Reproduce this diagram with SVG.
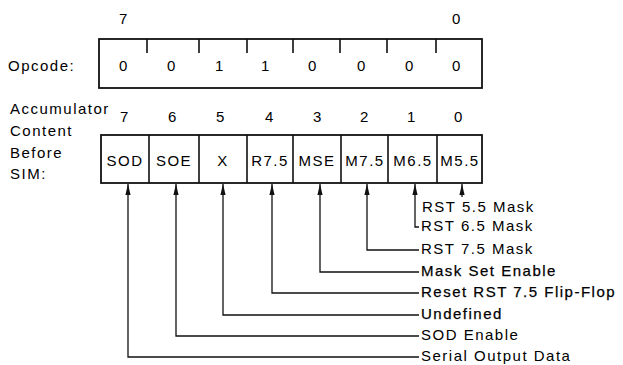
<svg xmlns="http://www.w3.org/2000/svg" width="623" height="365" viewBox="0 0 623 365">
<style>
text{font-family:"Liberation Sans",Arial,sans-serif;font-size:15px;letter-spacing:1.5px;fill:#000}
.c{text-anchor:middle}
.dk{stroke:#000;stroke-width:0.25}
.box{fill:#fff;stroke:#111;stroke-width:1.8}
.tick{stroke:#111;stroke-width:1.6}
.ln{fill:none;stroke:#111;stroke-width:1.3}
</style>
<defs>
<marker id="ah" markerWidth="6" markerHeight="11" refX="3" refY="0" orient="0" markerUnits="userSpaceOnUse" viewBox="0 0 6 11" overflow="visible">
<path d="M3 0 L5.6 11 L0.4 11 Z" fill="#111"/>
</marker>
</defs>
<rect width="623" height="365" fill="#fff"/>
<g id="opcode">
<text x="124" y="24" class="c">7</text>
<text x="457" y="24" class="c">0</text>
<text x="8" y="71">Opcode:</text>
<rect class="box" x="99" y="39" width="383" height="49"/>
<path class="tick" d="M147 39V53M199 39V53M247 39V53M293 39V53M340 39V53M387 39V53M436 39V53"/>
<text x="124" y="71" class="c">0</text>
<text x="172" y="71" class="c">0</text>
<text x="220" y="71" class="c">1</text>
<text x="266" y="71" class="c">1</text>
<text x="313" y="71" class="c">0</text>
<text x="362" y="71" class="c">0</text>
<text x="410" y="71" class="c">0</text>
<text x="457" y="71" class="c">0</text>
</g>
<g id="accumulator">
<text x="10" y="114">Accumulator</text>
<text x="10" y="136">Content</text>
<text x="10" y="158">Before</text>
<text x="10" y="179">SIM:</text>
<text x="125" y="122" class="c">7</text>
<text x="173" y="122" class="c">6</text>
<text x="221" y="122" class="c">5</text>
<text x="270" y="122" class="c">4</text>
<text x="318" y="122" class="c">3</text>
<text x="365" y="122" class="c">2</text>
<text x="412" y="122" class="c">1</text>
<text x="459" y="122" class="c">0</text>
<rect class="box" x="101" y="135" width="381" height="48"/>
<path class="tick" d="M149 135V183M199 135V183M247 135V183M293 135V183M341 135V183M388 135V183M437 135V183"/>
<text x="125" y="166" class="c">SOD</text>
<text x="174" y="166" class="c">SOE</text>
<text x="223" y="166" class="c">X</text>
<text x="270" y="166" class="c">R7.5</text>
<text x="317" y="166" class="c">MSE</text>
<text x="365" y="166" class="c">M7.5</text>
<text x="413" y="166" class="c">M6.5</text>
<text x="460" y="166" class="c">M5.5</text>
</g>
<g id="connectors">
<path class="ln" marker-start="url(#ah)" d="M462 184V197"/>
<path class="ln" marker-start="url(#ah)" d="M415 184V227H419"/>
<path class="ln" marker-start="url(#ah)" d="M367 184V250H419"/>
<path class="ln" marker-start="url(#ah)" d="M320 184V272H419"/>
<path class="ln" marker-start="url(#ah)" d="M272 184V293H419"/>
<path class="ln" marker-start="url(#ah)" d="M223 184V315H419"/>
<path class="ln" marker-start="url(#ah)" d="M176 184V336H419"/>
<path class="ln" marker-start="url(#ah)" d="M128 184V357H419"/>
</g>
<g id="labels">
<text x="422" y="212">RST 5.5 Mask</text>
<text x="421" y="231">RST 6.5 Mask</text>
<text x="421" y="254">RST 7.5 Mask</text>
<text x="421" y="276" class="dk">Mask Set Enable</text>
<text x="421" y="297" class="dk">Reset RST 7.5 Flip-Flop</text>
<text x="421" y="319" class="dk">Undefined</text>
<text x="421" y="340">SOD Enable</text>
<text x="421" y="361">Serial Output Data</text>
</g>
</svg>
